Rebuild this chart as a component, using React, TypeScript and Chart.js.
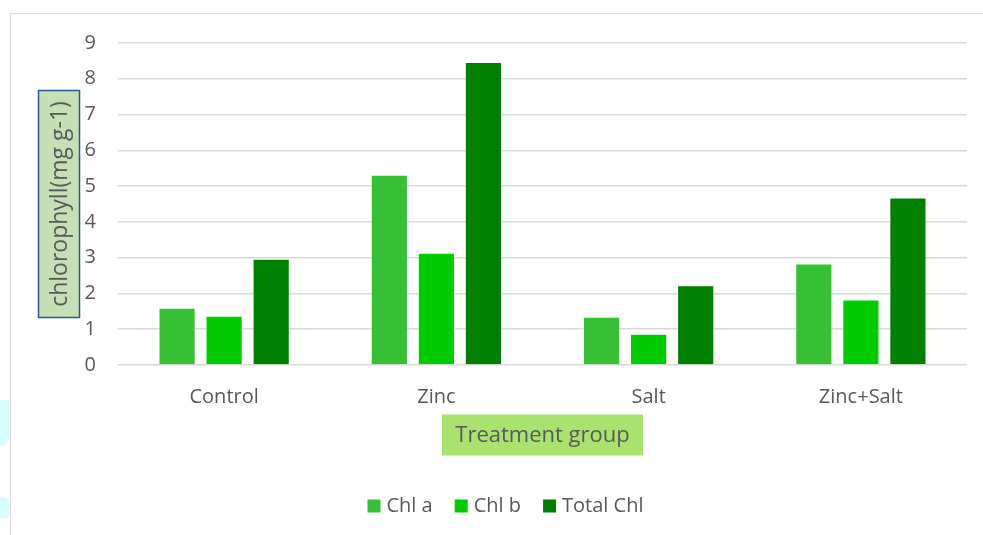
import React, { useEffect, useRef } from "react";
import { Chart, registerables } from "chart.js";

Chart.register(...registerables);

const categories = ["Control", "Zinc", "Salt", "Zinc+Salt"];
const chlA = [1.6, 5.32, 1.35, 2.84];
const chlB = [1.38, 3.14, 0.87, 1.83];
const totalChl = [2.97, 8.47, 2.23, 4.68];
const seriesNames = ["Chl a", "Chl b", "Total Chl"];
const seriesColors = ["#36C036", "#00CC00", "#008000"];
const yTitle = "chlorophyll(mg g-1)";
const xTitle = "Treatment group";

const FONT = "'Open Sans', sans-serif";
const TEXT = "#595959";

const decorPlugin = {
  id: "decor",
  afterDraw(chart: any) {
    const ctx = chart.ctx as CanvasRenderingContext2D;
    const ca = chart.chartArea;
    ctx.save();
    // Y axis title box
    const yCx = ca.left - 59;
    const yCy = (ca.top + ca.bottom) / 2 + 0;
    const bw = 41;
    const bh = 227;
    ctx.fillStyle = "#C5E0B4";
    ctx.fillRect(yCx - bw / 2, yCy - bh / 2, bw, bh);
    ctx.strokeStyle = "#2F5597";
    ctx.lineWidth = 1.5;
    ctx.strokeRect(yCx - bw / 2, yCy - bh / 2, bw, bh);
    ctx.translate(yCx, yCy);
    ctx.rotate(-Math.PI / 2);
    ctx.fillStyle = TEXT;
    ctx.font = `23px ${FONT}`;
    ctx.textAlign = "center";
    ctx.textBaseline = "middle";
    ctx.fillText(yTitle, 0, 1);
    ctx.restore();

    ctx.save();
    // X axis title box
    const xCx = (ca.left + ca.right) / 2;
    const xCy = ca.bottom + 70;
    const xbw = 201;
    const xbh = 41;
    ctx.fillStyle = "#A9E26E";
    ctx.fillRect(xCx - xbw / 2, xCy - xbh / 2, xbw, xbh);
    ctx.fillStyle = TEXT;
    ctx.font = `22px ${FONT}`;
    ctx.textAlign = "center";
    ctx.textBaseline = "middle";
    ctx.fillText(xTitle, xCx, xCy + 1);

    // Legend
    ctx.font = `20px ${FONT}`;
    const box = 13;
    const gapText = 6;
    const gapItem = 22;
    const items = chart.data.datasets.map((d: any) => ({
      label: d.label,
      color: d.backgroundColor,
      w: ctx.measureText(d.label).width,
    }));
    let total = 0;
    items.forEach((it: any, i: number) => {
      total += box + gapText + it.w + (i < items.length - 1 ? gapItem : 0);
    });
    let x = (ca.left + ca.right) / 2 - total / 2 - 37;
    const ly = ca.bottom + 141;
    ctx.textAlign = "left";
    items.forEach((it: any) => {
      ctx.fillStyle = it.color;
      ctx.fillRect(x, ly - box / 2, box, box);
      x += box + gapText;
      ctx.fillStyle = TEXT;
      ctx.fillText(it.label, x, ly);
      x += it.w + gapItem;
    });
    ctx.restore();
  },
};

export default function App() {
  const ref = useRef<HTMLCanvasElement | null>(null);
  useEffect(() => {
    if (!ref.current) return;
    const data = [chlA, chlB, totalChl];
    const chart = new Chart(ref.current, {
      type: "bar",
      data: {
        labels: categories,
        datasets: seriesNames.map((name, i) => ({
          label: name,
          data: data[i],
          backgroundColor: seriesColors[i],
          borderColor: "rgba(255,255,255,0.45)",
          borderWidth: 1,
          categoryPercentage: 0.665,
          barPercentage: 0.79,
        })),
      },
      options: {
        animation: false,
        responsive: false,
        layout: { padding: { left: 0, right: 16, top: 43, bottom: 0 } },
        plugins: {
          legend: { display: false },
          tooltip: { enabled: false },
        },
        scales: {
          x: {
            grid: { display: false, drawTicks: false },
            border: { display: false },
            ticks: { font: { family: FONT, size: 20 }, color: TEXT, padding: 20 },
            afterFit: (s: any) => {
              s.height = 170;
            },
          },
          y: {
            min: 0,
            max: 9,
            ticks: {
              stepSize: 1,
              font: { family: FONT, size: 20 },
              color: TEXT,
              padding: 22,
            },
            grid: { color: "#D9D9D9", lineWidth: 1.5, drawTicks: false },
            border: { display: false },
            afterFit: (s: any) => {
              s.width = 118;
            },
          },
        },
      },
      plugins: [decorPlugin],
    });
    return () => chart.destroy();
  }, []);

  return (
    <div
      style={{
        position: "fixed",
        left: 0,
        top: 0,
        width: 983,
        height: 535,
        background: "#fff",
        overflow: "hidden",
      }}
    >
      <div style={{ position: "absolute", left: 0, top: 400, width: 9, height: 46, background: "#D6FCFC", borderRadius: "0 4px 10px 0" }} />
      <div style={{ position: "absolute", left: 0, top: 497, width: 9, height: 21, background: "#D6FCFC", borderRadius: "0 6px 4px 0" }} />
      <div
        style={{
          position: "absolute",
          left: 10,
          top: 13,
          width: 990,
          height: 600,
          borderTop: "1.5px solid #D9D9D9",
          borderLeft: "1.5px solid #D9D9D9",
        }}
      />
      <canvas ref={ref} width={983} height={535} style={{ position: "absolute", left: 0, top: 0 }} />
    </div>
  );
}
